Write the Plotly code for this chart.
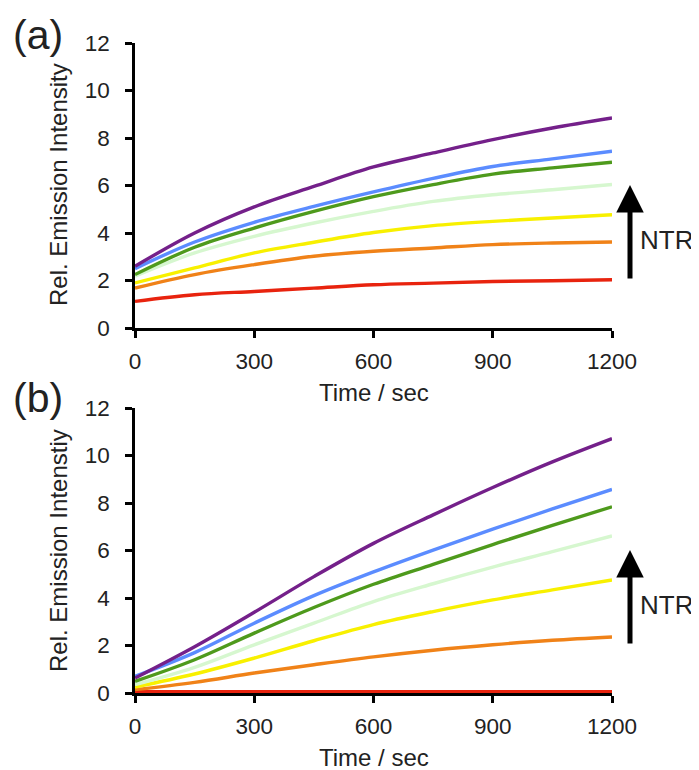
import plotly.graph_objects as go

# ---- data ----
time_s = [0, 150, 300, 450, 600, 750, 900, 1050, 1200]

# panel (a)
purple_a = [2.60, 4.00, 5.10, 5.96, 6.78, 7.37, 7.93, 8.42, 8.84]
blue_a   = [2.50, 3.62, 4.45, 5.12, 5.73, 6.30, 6.80, 7.12, 7.44]
green_a  = [2.25, 3.40, 4.21, 4.91, 5.53, 6.04, 6.48, 6.74, 6.98]
lgreen_a = [2.18, 3.16, 3.86, 4.42, 4.91, 5.33, 5.61, 5.82, 6.04]
yellow_a = [1.90, 2.53, 3.16, 3.61, 4.02, 4.31, 4.49, 4.63, 4.77]
orange_a = [1.68, 2.25, 2.67, 3.02, 3.23, 3.37, 3.51, 3.58, 3.62]
red_a    = [1.12, 1.40, 1.54, 1.68, 1.82, 1.89, 1.96, 1.99, 2.03]

# panel (b)
purple_b = [0.63, 1.95, 3.40, 4.90, 6.30, 7.50, 8.65, 9.73, 10.71]
blue_b   = [0.70, 1.70, 2.94, 4.10, 5.10, 6.02, 6.90, 7.75, 8.57]
green_b  = [0.49, 1.40, 2.52, 3.60, 4.58, 5.42, 6.25, 7.06, 7.84]
lgreen_b = [0.35, 1.08, 2.03, 2.94, 3.85, 4.60, 5.30, 5.95, 6.61]
yellow_b = [0.25, 0.80, 1.47, 2.20, 2.88, 3.43, 3.92, 4.34, 4.76]
orange_b = [0.14, 0.45, 0.84, 1.19, 1.52, 1.80, 2.03, 2.22, 2.36]
red_b    = [0.05, 0.05, 0.05, 0.05, 0.05, 0.05, 0.05, 0.05, 0.05]

x_ticks = [0, 300, 600, 900, 1200]
y_ticks = [0, 2, 4, 6, 8, 10, 12]

series_a = [red_a, orange_a, yellow_a, lgreen_a, green_a, blue_a, purple_a]
series_b = [red_b, orange_b, yellow_b, lgreen_b, green_b, blue_b, purple_b]
colors = ["#E8230E", "#F08218", "#F8F000", "#D6F7CF", "#4E9A1C", "#5B8CFF", "#74208A"]
names = ["red", "orange", "yellow", "light green", "green", "blue", "purple"]

# the page adds an 8 px body margin, so the figure is drawn 8 px smaller and
# all positions below are given in window pixels and shifted by that offset
OFF = 8
W, H = 699 - OFF, 770 - OFF
FONT = "Liberation Sans, Arial, sans-serif"

fig = go.Figure()
for vals, c, n in zip(series_a, colors, names):
    fig.add_trace(go.Scatter(x=time_s, y=vals, mode="lines", name=n,
                             line=dict(color=c, width=3.4, shape="spline"),
                             xaxis="x", yaxis="y", showlegend=False))
for vals, c, n in zip(series_b, colors, names):
    fig.add_trace(go.Scatter(x=time_s, y=vals, mode="lines", name=n,
                             line=dict(color=c, width=3.4, shape="spline"),
                             xaxis="x2", yaxis="y2", showlegend=False))

def px_x(p):
    return (p - OFF) / W

def px_y(p):
    return 1 - (p - OFF) / H

xdom = [px_x(135), px_x(612)]
ax_common = dict(showgrid=False, zeroline=False, showline=True, linecolor="black",
                 linewidth=2.5, ticks="outside", ticklen=7, tickwidth=2.5,
                 tickcolor="black", layer="below traces", automargin=False,
                 tickfont=dict(family=FONT, size=22.5, color="#222222"))

fig.update_layout(
    width=W, height=H,
    margin=dict(l=0, r=0, t=0, b=0, pad=0, autoexpand=False),
    paper_bgcolor="white", plot_bgcolor="white",
    font=dict(family=FONT, color="#222222"),
    xaxis=dict(domain=xdom, range=[0, 1200], tickvals=x_ticks, anchor="y",
               ticklabelstandoff=4, **ax_common),
    yaxis=dict(domain=[px_y(328), px_y(43)], range=[0, 12], tickvals=y_ticks, anchor="x",
               ticklabelstandoff=11, **ax_common),
    xaxis2=dict(domain=xdom, range=[0, 1200], tickvals=x_ticks, anchor="y2",
                ticklabelstandoff=4, **ax_common),
    yaxis2=dict(domain=[px_y(693), px_y(408)], range=[0, 12], tickvals=y_ticks, anchor="x2",
                ticklabelstandoff=11, **ax_common),
)

ann = []
# panel labels
ann.append(dict(text="(a)", x=px_x(11), y=px_y(35), xref="paper", yref="paper",
                xanchor="left", yanchor="middle", showarrow=False,
                font=dict(family=FONT, size=41, color="#222222")))
ann.append(dict(text="(b)", x=px_x(11), y=px_y(398), xref="paper", yref="paper",
                xanchor="left", yanchor="middle", showarrow=False,
                font=dict(family=FONT, size=41, color="#222222")))
# axis titles
ann.append(dict(text="Rel. Emission Intensity", x=px_x(58), y=px_y(185), xref="paper", yref="paper",
                xanchor="center", yanchor="middle", textangle=-90, showarrow=False,
                font=dict(family=FONT, size=24, color="#222222")))
ann.append(dict(text="Rel. Emission Intenstiy", x=px_x(58), y=px_y(551), xref="paper", yref="paper",
                xanchor="center", yanchor="middle", textangle=-90, showarrow=False,
                font=dict(family=FONT, size=24, color="#222222")))
ann.append(dict(text="Time / sec", x=px_x(374), y=px_y(392), xref="paper", yref="paper",
                xanchor="center", yanchor="middle", showarrow=False,
                font=dict(family=FONT, size=24, color="#222222")))
ann.append(dict(text="Time / sec", x=px_x(374), y=px_y(757), xref="paper", yref="paper",
                xanchor="center", yanchor="middle", showarrow=False,
                font=dict(family=FONT, size=24, color="#222222")))
# NTR arrows and labels
for top, bottom, mid in [(185, 280, 240), (550, 645, 605)]:
    ann.append(dict(text="", x=px_x(630), y=px_y(top), xref="paper", yref="paper",
                    ax=0, ay=bottom - top, axref="pixel", ayref="pixel",
                    showarrow=True, arrowhead=2, arrowsize=1.1, arrowwidth=5,
                    arrowcolor="black"))
    ann.append(dict(text="NTR", x=px_x(638), y=px_y(mid), xref="paper", yref="paper",
                    xanchor="left", yanchor="middle", showarrow=False,
                    font=dict(family=FONT, size=26, color="#222222")))
fig.update_layout(annotations=ann)

fig.write_html("out.html")
